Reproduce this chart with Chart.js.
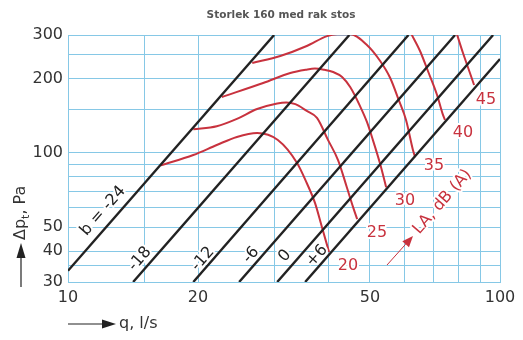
<!DOCTYPE html>
<html>
<head>
<meta charset="utf-8">
<script src="https://cdn.jsdelivr.net/npm/chart.js@4.4.0/dist/chart.umd.min.js"></script>
<style>
html, body { margin: 0; padding: 0; background: #fff; }
#wrap { position: relative; width: 523px; height: 340px; }
</style>
</head>
<body>
<div id="wrap"><canvas id="c" width="523" height="340"></canvas></div>
<script>
// q, l/s  and  delta p_t, Pa  (both log)
var xTicks = [10, 15, 20, 30, 40, 50, 60, 70, 80, 90, 100]
var xLabels = [10, 20, 50, 100]
var yTicks = [30, 35, 40, 50, 60, 70, 80, 90, 100, 150, 200, 250, 300]
var yLabels = [30, 40, 50, 100, 200, 300]

// damper setting b, straight lines read at their ends
var bNames = ['b = -24', '-18', '-12', '-6', '0', '+6']
var bm24 = [[10, 33.3], [30, 300]]
var bm18 = [[14.15, 30], [44.8, 300]]
var bm12 = [[19.5, 30], [61.4, 300]]
var bm6 = [[24.9, 30], [78.7, 300]]
var b0 = [[30.5, 30], [96.4, 300]]
var bp6 = [[35.4, 30], [100, 240]]

// sound level LA, dB(A)
var laNames = ['20', '25', '30', '35', '40', '45']
var la20 = [[16.4, 89], [19.5, 98], [22.1, 107.6], [24.6, 116], [27.4, 120.3], [30.6, 112.7], [33.9, 91], [35.7, 75.5], [37.3, 62.7], [38.7, 50.1], [40.2, 39.7]]
var la25 = [[19.5, 124.5], [22.1, 128.1], [24.6, 137.2], [27.4, 150.5], [30.5, 158.5], [32.0, 160], [33.6, 157.5], [35.7, 147.8], [37.7, 138.5], [40.0, 112.6], [42.2, 93.3], [44.2, 72.6], [45.7, 60.3], [46.7, 53.9]]
var la30 = [[22.7, 168.4], [28.3, 191.8], [32.7, 210.5], [35.5, 217], [37.3, 219.5], [39.2, 217], [41.1, 212.5], [43.1, 202.8], [45.0, 184.6], [47.4, 154.9], [49.2, 133.4], [50.8, 112.6], [52.8, 90.1], [54.5, 72.6]]
var la35 = [[26.7, 231], [31.0, 246.6], [35.7, 270.7], [39.8, 297], [42.0, 302], [45.0, 302], [49.2, 273.3], [52.8, 235.4], [55.7, 200.9], [58.4, 162.2], [60.6, 135.9], [62.9, 102.5], [63.6, 96]]
var la40 = [[62.4, 302], [65.3, 258.4], [68.1, 214.5], [71.5, 171.5], [73.8, 142.4], [74.6, 135.9]]
var la45 = [[79.5, 302], [82.1, 253.6], [85.2, 210.5], [87.1, 188.3]]

var gridBlue = '#86c8e6'
var red = '#c8323e'
var ink = '#222'
var font = 'DejaVu Sans'

function toPts(arr) {
    return arr.map(function (p) { return {x: p[0], y: p[1]} })
}

var datasets = []
;[bm24, bm18, bm12, bm6, b0, bp6].forEach(function (l, i) {
    datasets.push({label: bNames[i], data: toPts(l), showLine: true, borderColor: ink, borderWidth: 2.4, pointRadius: 0, tension: 0})
})
;[la20, la25, la30, la35, la40, la45].forEach(function (l, i) {
    datasets.push({label: laNames[i], data: toPts(l), showLine: true, borderColor: red, borderWidth: 2, pointRadius: 0, cubicInterpolationMode: 'monotone'})
})

function txt(ctx, s, x, y, rot, color, size, align, weight) {
    ctx.save()
    ctx.translate(x, y)
    ctx.rotate(rot || 0)
    ctx.font = (weight || 'normal') + ' ' + size + 'px "' + font + '"'
    ctx.textAlign = align || 'center'
    ctx.textBaseline = 'middle'
    ctx.lineJoin = 'round'
    ctx.lineWidth = 4
    ctx.strokeStyle = '#fff'
    ctx.strokeText(s, 0, 0)
    ctx.fillStyle = color
    ctx.fillText(s, 0, 0)
    ctx.restore()
}

function arrow(ctx, x1, y1, x2, y2, head, half, color, lw) {
    var a = Math.atan2(y2 - y1, x2 - x1)
    var bx = x2 - head * Math.cos(a), by = y2 - head * Math.sin(a)
    ctx.save()
    ctx.strokeStyle = color
    ctx.fillStyle = color
    ctx.lineWidth = lw
    ctx.beginPath()
    ctx.moveTo(x1, y1)
    ctx.lineTo(bx, by)
    ctx.stroke()
    ctx.beginPath()
    ctx.moveTo(x2, y2)
    ctx.lineTo(bx + half * Math.sin(a), by - half * Math.cos(a))
    ctx.lineTo(bx - half * Math.sin(a), by + half * Math.cos(a))
    ctx.closePath()
    ctx.fill()
    ctx.restore()
}

var overlay = {
    id: 'overlay',
    afterDatasetsDraw: function (chart) {
        var ctx = chart.ctx
        var xs = chart.scales.x, ys = chart.scales.y
        // angle of a p ~ q^2 line on screen
        var ang = Math.atan2(ys.getPixelForValue(300) - ys.getPixelForValue(30),
            xs.getPixelForValue(10 * Math.sqrt(10)) - xs.getPixelForValue(10))

        txt(ctx, 'Storlek 160 med rak stos', 281, 15, 0, '#555', 10.5, 'center', 'bold')

        var bPos = [[103, 211], [140, 259], [203, 259], [251, 255], [285, 256], [317, 256]]
        bNames.forEach(function (n, i) { txt(ctx, n, bPos[i][0], bPos[i][1], ang, ink, 16) })

        var laPos = [[348, 266], [377, 233], [405, 201], [434, 166], [463, 133], [486, 100]]
        laNames.forEach(function (n, i) { txt(ctx, n, laPos[i][0], laPos[i][1], 0, red, 16) })

        arrow(ctx, 387, 265, 413, 236, 11, 4.5, red, 1)
        txt(ctx, 'LA, dB (A)', 416, 232, ang, red, 16, 'left')

        // axis titles
        arrow(ctx, 68, 324, 116, 324, 14, 4.5, ink, 1.2)
        txt(ctx, 'q, l/s', 119, 324, 0, '#333', 16, 'left')

        arrow(ctx, 21, 287, 21, 243, 15, 4.5, ink, 1.2)
        ctx.save()
        ctx.translate(21, 240)
        ctx.rotate(-Math.PI / 2)
        ctx.textAlign = 'left'
        ctx.textBaseline = 'middle'
        ctx.fillStyle = '#333'
        ctx.font = '16px "' + font + '"'
        ctx.fillText('Δp', 0, 0)
        var w = ctx.measureText('Δp').width
        ctx.font = '11px "' + font + '"'
        ctx.fillText('t', w, 5)
        w += ctx.measureText('t').width
        ctx.font = '16px "' + font + '"'
        ctx.fillText(', Pa', w, 0)
        ctx.restore()
    }
}

new Chart(document.getElementById('c').getContext('2d'), {
    type: 'scatter',
    data: {datasets: datasets},
    plugins: [overlay],
    options: {
        responsive: false,
        animation: false,
        events: [],
        layout: {padding: {top: 35, right: 23, bottom: 0, left: 0}},
        plugins: {legend: {display: false}, tooltip: {enabled: false}},
        scales: {
            x: {
                type: 'logarithmic', min: 10, max: 100,
                afterBuildTicks: function (s) { s.ticks = xTicks.map(function (v) { return {value: v} }) },
                afterFit: function (s) { s.height = 58 },
                grid: {color: gridBlue, lineWidth: 1, drawTicks: false},
                border: {color: gridBlue},
                ticks: {
                    autoSkip: false, maxRotation: 0, padding: 6, color: '#333',
                    font: {family: font, size: 16},
                    callback: function (v) { return xLabels.indexOf(v) >= 0 ? String(v) : '' }
                }
            },
            y: {
                type: 'logarithmic', min: 30, max: 300,
                afterBuildTicks: function (s) { s.ticks = yTicks.map(function (v) { return {value: v} }) },
                afterFit: function (s) { s.width = 68 },
                grid: {color: gridBlue, lineWidth: 1, drawTicks: false},
                border: {color: gridBlue},
                ticks: {
                    autoSkip: false, padding: 5, color: '#333',
                    font: {family: font, size: 16},
                    callback: function (v) { return yLabels.indexOf(v) >= 0 ? String(v) : '' }
                }
            }
        }
    }
})
</script>
</body>
</html>
